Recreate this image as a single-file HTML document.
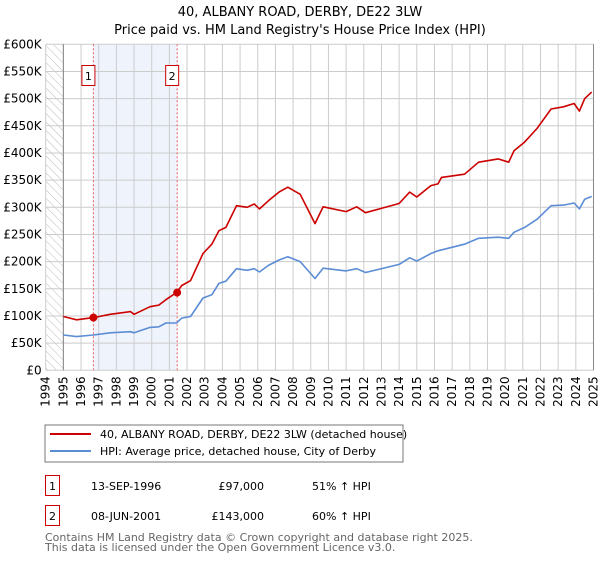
<!DOCTYPE html>
<html><head><meta charset="utf-8"><style>
body{margin:0;background:#fff;font-family:"DejaVu Sans","Liberation Sans",sans-serif;}
svg text{font-family:"DejaVu Sans","Liberation Sans",sans-serif;}
</style></head><body>
<svg id="c" width="600" height="560" xmlns="http://www.w3.org/2000/svg">
<defs><pattern id="hatch" width="6" height="6" patternUnits="userSpaceOnUse" patternTransform="rotate(-45)"><line x1="0" y1="0" x2="0" y2="6" stroke="#bbb" stroke-width="1"/></pattern></defs>
<text x="300" y="16" text-anchor="middle" font-size="13">40, ALBANY ROAD, DERBY, DE22 3LW</text>
<text x="300" y="34" text-anchor="middle" font-size="13">Price paid vs. HM Land Registry's House Price Index (HPI)</text>
<g id="plot"></g>
<rect x="45" y="425" width="358" height="37" fill="#fff" stroke="#777"/>
<line x1="50" y1="434" x2="91" y2="434" stroke="#cc0000" stroke-width="2"/>
<text x="100" y="438" font-size="11">40, ALBANY ROAD, DERBY, DE22 3LW (detached house)</text>
<line x1="50" y1="451" x2="91" y2="451" stroke="#5b8dd6" stroke-width="2"/>
<text x="100" y="455" font-size="11">HPI: Average price, detached house, City of Derby</text>
<g>
<rect x="45.5" y="475.5" width="14" height="20" fill="none" stroke="#cc0000"/>
<text x="52.5" y="490" text-anchor="middle" font-size="11">1</text>
<text x="91" y="490" font-size="11">13-SEP-1996</text>
<text x="264" y="490" text-anchor="end" font-size="11">£97,000</text>
<text x="312" y="490" font-size="11">51% ↑ HPI</text></g>
<g>
<rect x="45.5" y="505.5" width="14" height="20" fill="none" stroke="#cc0000"/>
<text x="52.5" y="520" text-anchor="middle" font-size="11">2</text>
<text x="91" y="520" font-size="11">08-JUN-2001</text>
<text x="264" y="520" text-anchor="end" font-size="11">£143,000</text>
<text x="312" y="520" font-size="11">60% ↑ HPI</text></g>
<text x="45" y="541" font-size="11" fill="#666">Contains HM Land Registry data © Crown copyright and database right 2025.</text>
<text x="45" y="551" font-size="11" fill="#666">This data is licensed under the Open Government Licence v3.0.</text>
</svg>
<script>
const hpiYears=[1995.0,1995.75,1996.7,1997.65,1998.8,1999.0,1999.9,2000.4,2000.8,2001.4,2001.7,2002.2,2002.9,2003.4,2003.8,2004.2,2004.8,2005.4,2005.8,2006.1,2006.6,2007.2,2007.7,2008.4,2009.24,2009.7,2011.0,2011.6,2012.1,2014.0,2014.6,2015.0,2015.8,2016.2,2017.7,2018.5,2019.6,2020.2,2020.5,2021.1,2021.8,2022.6,2023.3,2023.9,2024.2,2024.5,2024.9];
const hpiValues=[65,62,65,69,71,69,79,80,87,87,96,99,133,139,160,164,187,184,187,181,193,203,209,200,169,188,183,187,180,195,207,201,215,220,232,243,245,243,254,263,278,303,304,308,297,315,320];
const propYears=[1995.0,1995.75,1996.7,1997.65,1998.8,1999.0,1999.9,2000.4,2000.8,2001.4,2001.7,2002.2,2002.9,2003.4,2003.8,2004.2,2004.8,2005.4,2005.8,2006.1,2006.6,2007.2,2007.7,2008.4,2009.24,2009.7,2011.0,2011.6,2012.1,2014.0,2014.6,2015.0,2015.8,2016.2,2016.4,2017.7,2018.5,2019.6,2020.2,2020.5,2021.1,2021.8,2022.6,2023.3,2023.9,2024.2,2024.5,2024.9];
const propValues=[99,93,97,103,108,103,117,120,130,143,156,165,215,232,257,263,303,300,306,297,312,328,337,324,270,301,292,301,290,307,328,319,340,343,355,361,383,389,383,404,420,445,481,485,491,477,500,512];
const saleYears=[1996.7,2001.44];
const saleValues=[97,143];
const saleLabels=["1","2"];
const yTicks=[0,50,100,150,200,250,300,350,400,450,500,550,600];
const yTickLabels=["£0","£50K","£100K","£150K","£200K","£250K","£300K","£350K","£400K","£450K","£500K","£550K","£600K"];
const xTicks=[1994,1995,1996,1997,1998,1999,2000,2001,2002,2003,2004,2005,2006,2007,2008,2009,2010,2011,2012,2013,2014,2015,2016,2017,2018,2019,2020,2021,2022,2023,2024,2025];

const L=45.7,R=593.5,T=44.3,B=370.3;
const xs=y=>L+(y-1994)/(2025-1994)*(R-L);
const ys=v=>B-v/600*(B-T);
const NS="http://www.w3.org/2000/svg";
const g=document.getElementById('plot');
function mk(t,a){const e=document.createElementNS(NS,t);for(const k in a)e.setAttribute(k,a[k]);g.appendChild(e);return e;}
let e;
e=mk('rect',{x:L,y:T,width:xs(1995)-L,height:B-T,fill:'url(#hatch)'});


e=mk('rect',{x:xs(saleYears[0]),y:T,width:xs(saleYears[1])-xs(saleYears[0]),height:B-T,fill:'#eef3fc'});


xTicks.forEach(t=>{
 e=mk('line',{x1:xs(t),x2:xs(t),y1:T,y2:B,stroke:'#ccc'});
 
 
 e=mk('text',{x:0,y:0,'font-size':12,'text-anchor':'end',transform:`translate(${xs(t)+4},${B+6}) rotate(-90)`});
 e.textContent=t;
 
 
});
yTicks.forEach((t,i)=>{
 e=mk('line',{x1:L,x2:R,y1:ys(t),y2:ys(t),stroke:'#ccc'});
 
 
 e=mk('text',{x:L-4,y:ys(t)+4,'font-size':12,'text-anchor':'end'});
 e.textContent=yTickLabels[i];
 
 
});
e=mk('line',{x1:xs(1995),x2:xs(1995),y1:T,y2:B,stroke:'#888'});


e=mk('line',{x1:R,x2:R,y1:T,y2:B,stroke:'#888'});


saleYears.forEach((y,i)=>{
 e=mk('line',{x1:xs(y),x2:xs(y),y1:T,y2:B,stroke:'#f06060','stroke-dasharray':'2,2'});
 
 
 e=mk('rect',{x:xs(y)-11.5,y:65.5,width:13,height:20,fill:'#fff',stroke:'#cc0000'});
 
 
 e=mk('text',{x:xs(y)-5,y:80,'font-size':11,'text-anchor':'middle'});
 e.textContent=saleLabels[i];
 
 
});
function line(xa,va,col,name){
 const d=xa.map((x,i)=>(i?'L':'M')+xs(x).toFixed(1)+','+ys(va[i]).toFixed(1)).join('');
 e=mk('path',{d:d,fill:'none',stroke:col,'stroke-width':1.6,'stroke-linejoin':'round'});
 
 
}
line(hpiYears,hpiValues,'#5b8dd6','hpi-line');
line(propYears,propValues,'#cc0000','property-line');
saleYears.forEach((y,i)=>{
 e=mk('circle',{cx:xs(y),cy:ys(saleValues[i]),r:4,fill:'#cc0000'});
 
 
});
</script>
</body></html>
